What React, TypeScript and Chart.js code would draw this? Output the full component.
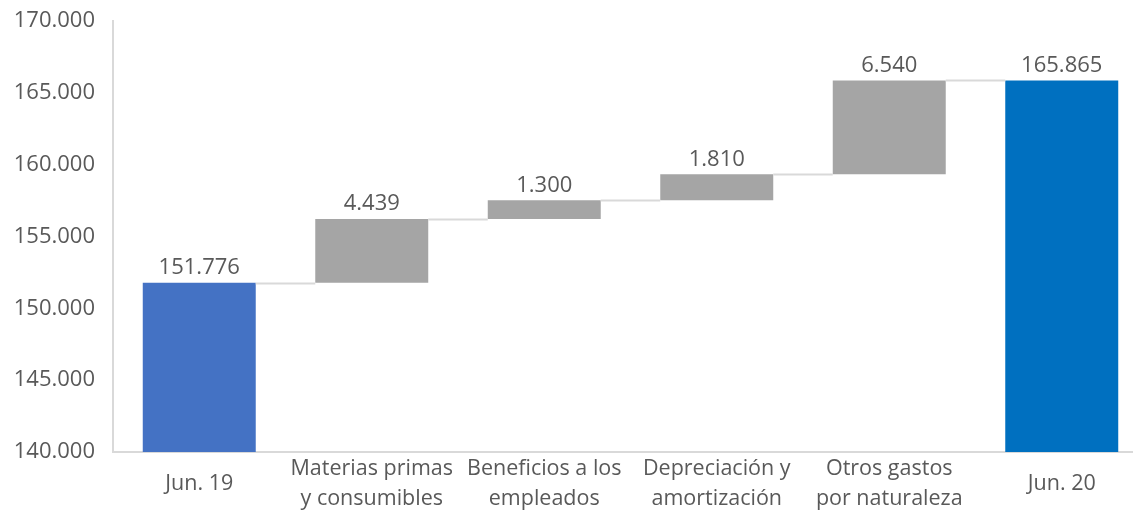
import React, { useEffect, useRef } from 'react';
import { Chart, registerables } from 'chart.js';

Chart.register(...registerables);

const categories: string[][] = [
  ['Jun. 19'],
  ['Materias primas', 'y consumibles'],
  ['Beneficios a los', 'empleados'],
  ['Depreciación y', 'amortización'],
  ['Otros gastos', 'por naturaleza'],
  ['Jun. 20'],
];
const values = [151776, 4439, 1300, 1810, 6540, 165865];
const isTotal = [true, false, false, false, false, true];
const barColors = ['#4472C4', '#A5A5A5', '#A5A5A5', '#A5A5A5', '#A5A5A5', '#0070C0'];
const yTicks = [140000, 145000, 150000, 155000, 160000, 165000, 170000];

const FONT = "'Open Sans', 'Liberation Sans', sans-serif";
const TEXT = '#595959';
const LINE = '#D9D9D9';

const fmt = (n: number) => String(Math.round(n)).replace(/\B(?=(\d{3})+(?!\d))/g, '.');

function buildRanges(): [number, number][] {
  let running = 0;
  return values.map((v, i) => {
    if (isTotal[i]) {
      running = v;
      return [yTicks[0], v] as [number, number];
    }
    const start = running;
    running += v;
    return [start, running] as [number, number];
  });
}

const waterfallPlugin = {
  id: 'waterfallExtras',
  afterDatasetsDraw(chart: any) {
    const ranges = buildRanges();
    const meta = chart.getDatasetMeta(0);
    const ys = chart.scales.y;
    const ctx = chart.ctx;
    ctx.save();
    // connectors
    ctx.strokeStyle = LINE;
    ctx.lineWidth = 2;
    for (let i = 0; i < meta.data.length - 1; i++) {
      const a = meta.data[i].getProps(['x', 'width'], true);
      const b = meta.data[i + 1].getProps(['x', 'width'], true);
      const y = Math.round(ys.getPixelForValue(ranges[i][1])) + 0.5;
      ctx.beginPath();
      ctx.moveTo(a.x + a.width / 2, y);
      ctx.lineTo(b.x - b.width / 2, y);
      ctx.stroke();
    }
    // labels
    ctx.fillStyle = TEXT;
    ctx.font = `22px ${FONT}`;
    ctx.textAlign = 'center';
    ctx.textBaseline = 'bottom';
    meta.data.forEach((bar: any, i: number) => {
      const p = bar.getProps(['x', 'y', 'base'], true);
      const top = Math.min(p.y, p.base);
      ctx.fillText(fmt(values[i]), p.x, top - 4);
    });
    ctx.restore();
  },
};

export default function App() {
  const ref = useRef<HTMLCanvasElement | null>(null);

  useEffect(() => {
    document.body.style.margin = '0';
    document.body.style.overflow = 'hidden';
    if (!ref.current) return;
    const chart = new Chart(ref.current, {
      type: 'bar',
      data: {
        labels: categories,
        datasets: [
          {
            data: buildRanges() as any,
            backgroundColor: barColors,
            borderWidth: 0,
            categoryPercentage: 1,
            barPercentage: 0.655,
          },
        ],
      },
      options: {
        animation: false,
        responsive: true,
        maintainAspectRatio: false,
        layout: { padding: { top: 21, right: 12, left: 0, bottom: 0 } },
        plugins: {
          legend: { display: false },
          tooltip: { enabled: false },
        },
        scales: {
          x: {
            grid: { display: false, drawTicks: false },
            border: { display: true, color: LINE, width: 2 },
            ticks: {
              color: TEXT,
              font: { family: FONT, size: 21.5, lineHeight: 1.38 },
              padding: 17,
              maxRotation: 0,
              autoSkip: false,
              crossAlign: 'center',
            },
            afterFit: (s: any) => {
              s.height = 58;
            },
          },
          y: {
            min: yTicks[0],
            max: yTicks[yTicks.length - 1],
            grid: { display: false, drawTicks: false },
            border: { display: true, color: LINE, width: 2 },
            afterBuildTicks: (s: any) => {
              s.ticks = yTicks.map((v) => ({ value: v }));
            },
            ticks: {
              color: TEXT,
              font: { family: FONT, size: 22 },
              padding: 18,
              callback: (v: any) => fmt(Number(v)),
            },
            afterFit: (s: any) => {
              s.width = 113;
              s.paddingTop = 0;
              s.paddingBottom = 0;
            },
          },
        },
      },
      plugins: [waterfallPlugin],
    });
    return () => chart.destroy();
  }, []);

  return (
    <div style={{ width: 1133, height: 510, overflow: 'hidden', position: 'relative' }}>
      <div style={{ width: 1160, height: 510, position: 'absolute', left: 0, top: 0 }}>
        <canvas ref={ref} />
      </div>
    </div>
  );
}
